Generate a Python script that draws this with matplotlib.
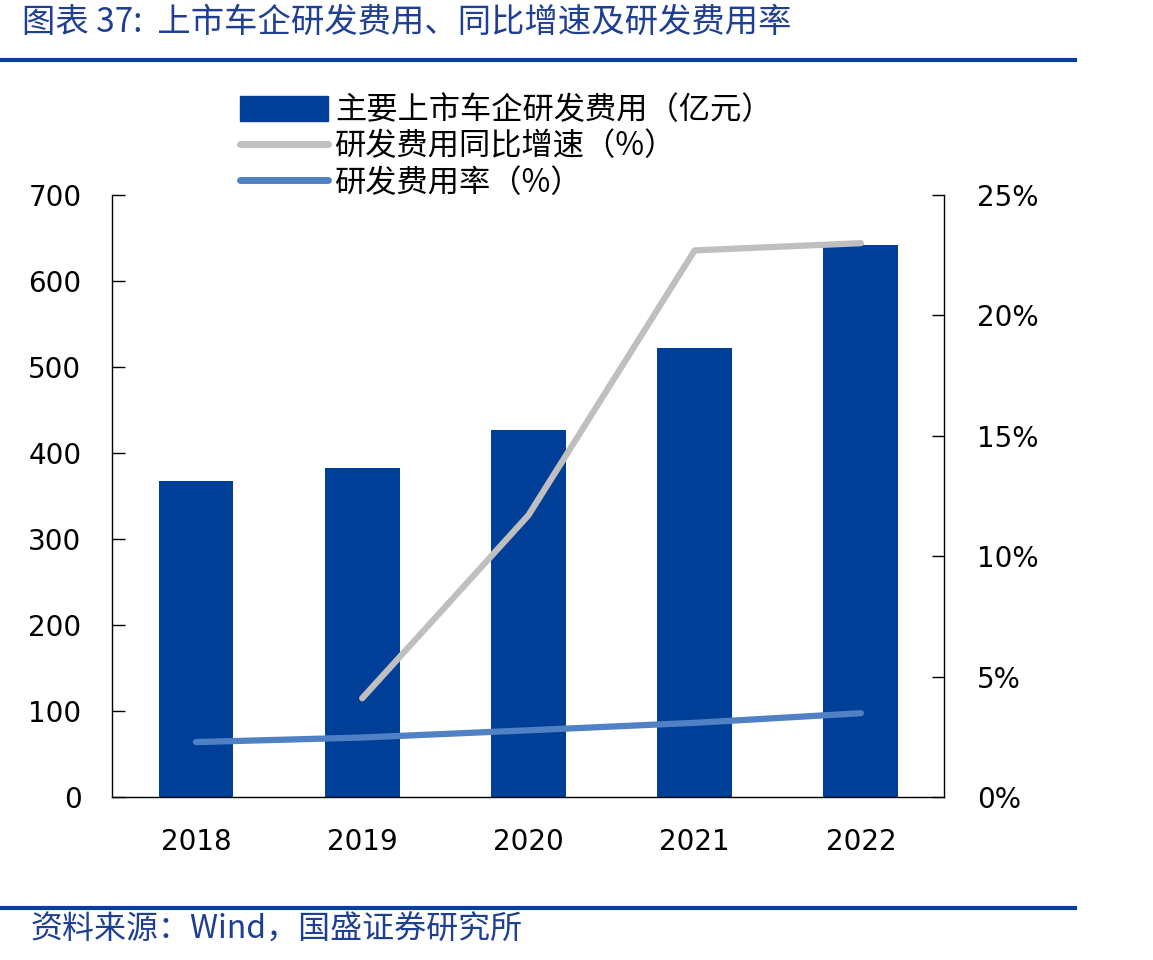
import matplotlib
matplotlib.use("Agg")
import matplotlib.pyplot as plt
from matplotlib.lines import Line2D
from matplotlib.ticker import FuncFormatter

plt.rcParams['font.family'] = ['DejaVu Sans', 'Noto Sans CJK SC']

years = ['2018', '2019', '2020', '2021', '2022']
rd_expense = [367, 383, 427, 522, 642]          # 亿元
rd_growth = [None, 4.1, 11.7, 22.7, 23.0]        # %
rd_rate = [2.28, 2.47, 2.77, 3.08, 3.48]         # %

legend_labels = ['主要上市车企研发费用（亿元）', '研发费用同比增速（%）', '研发费用率（%）']
title_text = '图表 37:  上市车企研发费用、同比增速及研发费用率'
source_text = '资料来源：Wind，国盛证券研究所'

BAR_C = '#003F98'
GREY_C = '#BFBFBF'
LBLUE_C = '#4F81C4'
TXT_BLUE = '#1F3F93'
CJK = ['Noto Sans CJK SC', 'DejaVu Sans']

fig = plt.figure(figsize=(11.53, 9.6), dpi=100)
ax = fig.add_axes([112/1153, 1-797/960, (944-112)/1153, (797-195)/960])
ax2 = ax.twinx()

x = list(range(len(years)))
ax.bar(x, rd_expense, width=0.45, color=BAR_C, zorder=2)
ax.set_ylim(0, 700)
ax.set_xlim(-0.505, 4.5)
ax.set_yticks(range(0, 701, 100))
ax.set_xticks(x)
ax.set_xticklabels(years)
ax.tick_params(axis='y', direction='in', length=9, width=1, labelsize=20, pad=22)
ax.tick_params(axis='x', length=0, labelsize=20, pad=22)
ax.spines['top'].set_visible(False)
ax.spines['right'].set_visible(False)
ax.spines['left'].set_linewidth(1)
ax.spines['bottom'].set_linewidth(1)

gx = [i for i, v in zip(x, rd_growth) if v is not None]
gy = [v for v in rd_growth if v is not None]
ax2.plot(gx, gy, color=GREY_C, lw=4.5, solid_capstyle='round', zorder=3)
ax2.plot(x, rd_rate, color=LBLUE_C, lw=4.5, solid_capstyle='round', zorder=3)
ax2.set_ylim(0, 25)
ax2.set_yticks(range(0, 26, 5))
ax2.yaxis.set_major_formatter(FuncFormatter(lambda v, p: f'{int(v)}%'))
ax2.tick_params(axis='y', direction='in', length=9, width=1, labelsize=20, pad=24)
ax2.spines['top'].set_visible(False)
ax2.spines['left'].set_visible(False)
ax2.spines['bottom'].set_visible(False)
ax2.spines['right'].set_linewidth(1)

handles = [
    plt.Rectangle((0, 0), 1, 1, color=BAR_C),
    Line2D([0], [0], color=GREY_C, lw=5, solid_capstyle='round'),
    Line2D([0], [0], color=LBLUE_C, lw=5, solid_capstyle='round'),
]
fig.legend(handles, legend_labels, loc='upper left', bbox_to_anchor=(240/1153, 1-94/960),
           frameon=False, borderpad=0, borderaxespad=0, handlelength=2.8, handleheight=0.85,
           handletextpad=0.25, labelspacing=0.14, prop={'family': CJK, 'size': 22.5})

fig.text(22/1153, 1-22/960, title_text, fontsize=24, color=TXT_BLUE, style='italic',
         family=CJK, va='center', ha='left')
fig.add_artist(Line2D([0, 1075/1153], [1-60/960, 1-60/960], color='#0A3F98', lw=3))
fig.add_artist(Line2D([0, 1075/1153], [1-908/960, 1-908/960], color='#0A3F98', lw=3))
fig.text(30/1153, 1-930/960, source_text, fontsize=23, color=TXT_BLUE, style='italic',
         family=CJK, va='center', ha='left')

fig.savefig('out.png', dpi=100)
